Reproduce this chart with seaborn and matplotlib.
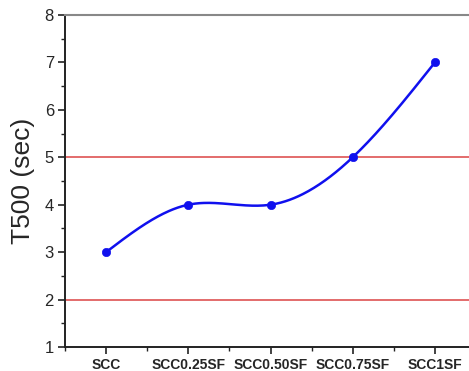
import numpy as np
import pandas as pd
import matplotlib
matplotlib.use("Agg")
import matplotlib.pyplot as plt
import seaborn as sns
from matplotlib.ticker import MultipleLocator

categories = ["SCC", "SCC0.25SF", "SCC0.50SF", "SCC0.75SF", "SCC1SF"]
t500 = [3, 4, 4, 5, 7]
limit_lines = [2, 5]
ylabel = "T500 (sec)"


def natural_spline(x, y, n=300):
    x = np.asarray(x, float); y = np.asarray(y, float)
    k = len(x); h = np.diff(x)
    A = np.zeros((k, k)); b = np.zeros(k)
    A[0, 0] = A[-1, -1] = 1
    for i in range(1, k - 1):
        A[i, i - 1] = h[i - 1]; A[i, i] = 2 * (h[i - 1] + h[i]); A[i, i + 1] = h[i]
        b[i] = 3 * ((y[i + 1] - y[i]) / h[i] - (y[i] - y[i - 1]) / h[i - 1])
    c = np.linalg.solve(A, b)
    xs = np.linspace(x[0], x[-1], n); ys = np.empty_like(xs)
    for j, xv in enumerate(xs):
        i = min(np.searchsorted(x, xv, side="right") - 1, k - 2)
        d = xv - x[i]
        bb = (y[i + 1] - y[i]) / h[i] - h[i] * (2 * c[i] + c[i + 1]) / 3
        dd = (c[i + 1] - c[i]) / (3 * h[i])
        ys[j] = y[i] + bb * d + c[i] * d ** 2 + dd * d ** 3
    return xs, ys


sns.set_theme(style="white")
plt.rcParams["font.family"] = ["Liberation Sans", "DejaVu Sans"]

fig = plt.figure(figsize=(4.69, 3.71), dpi=100)
W, H = 469, 371
left, right, top, bottom = 65, 476, 15, 347
ax = fig.add_axes([left / W, 1 - bottom / H, (right - left) / W, (bottom - top) / H])

pos = np.arange(len(categories))
xs, ys = natural_spline(pos, t500)
curve = pd.DataFrame({"x": xs, "y": ys})
pts = pd.DataFrame({"x": pos, "y": t500})

for v in limit_lines:
    ax.axhline(v, color="#e06060", lw=1.3, zorder=1)

sns.lineplot(data=curve, x="x", y="y", ax=ax, color="#1010ee", lw=1.8, zorder=3)
sns.scatterplot(data=pts, x="x", y="y", ax=ax, color="#1010ee", s=36, edgecolor="#1010ee", zorder=4)

ax.set_xlim(-0.5, 4.5)
ax.set_ylim(1, 8)
ax.set_xticks(pos)
ax.set_xticklabels(categories, fontsize=10, fontweight="bold")
ax.xaxis.set_minor_locator(MultipleLocator(0.5))
ax.yaxis.set_major_locator(MultipleLocator(1))
ax.yaxis.set_minor_locator(MultipleLocator(0.5))
ax.tick_params(axis="y", labelsize=12)
ax.tick_params(which="major", direction="out", length=5, width=1.2, color="#222222",
               bottom=True, left=True, pad=3)
ax.tick_params(which="minor", direction="out", length=3, width=1.0, color="#222222",
               bottom=True, left=True)
ax.set_xlabel("")
ax.set_ylabel(ylabel, fontsize=19, labelpad=7)

for s in ["left", "bottom"]:
    ax.spines[s].set_color("#222222"); ax.spines[s].set_linewidth(1.4)
ax.spines["top"].set_color("#888888"); ax.spines["top"].set_linewidth(1.5)
ax.spines["right"].set_visible(False)

fig.savefig("out.png", dpi=100)
